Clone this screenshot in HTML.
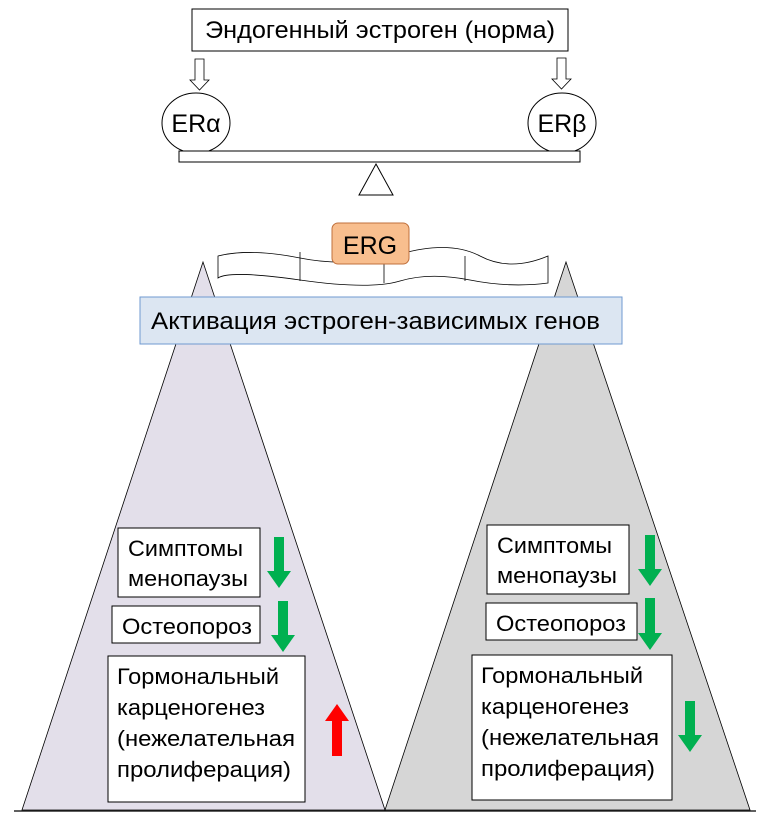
<!DOCTYPE html>
<html><head><meta charset="utf-8"><style>
body{margin:0;background:#fff}
text{font-family:"Liberation Sans",sans-serif;fill:#000}
</style></head><body>
<svg width="772" height="821" viewBox="0 0 772 821" xmlns="http://www.w3.org/2000/svg">
<polygon points="203,262 22,810 385,810" fill="#e3dfea" stroke="#000" stroke-width="0.8"/>
<polygon points="566,262 385,810 750,810" fill="#d6d6d6" stroke="#000" stroke-width="0.8"/>
<line x1="14" y1="811" x2="756" y2="811" stroke="#000" stroke-width="1.2"/>
<rect x="192" y="9" width="376" height="42" fill="#fff" stroke="#000" stroke-width="1"/>
<text x="380" y="38" font-size="24" text-anchor="middle" textLength="350" lengthAdjust="spacingAndGlyphs">Эндогенный эстроген (норма)</text>
<polygon points="195,59 204,59 204,80 209,80 199.5,90 190,80 195,80" fill="#fff" stroke="#000" stroke-width="0.8"/>
<polygon points="557,58 566,58 566,79 571,79 561.5,89 552,79 557,79" fill="#fff" stroke="#000" stroke-width="0.8"/>
<ellipse cx="196" cy="123" rx="34" ry="30" fill="#fff" stroke="#000"/>
<ellipse cx="562" cy="123" rx="34" ry="30" fill="#fff" stroke="#000"/>
<text x="196" y="132" font-size="25" text-anchor="middle">ERα</text>
<text x="562" y="132" font-size="25" text-anchor="middle">ERβ</text>
<rect x="179" y="151" width="401" height="11" fill="#fff" stroke="#000"/>
<polygon points="376,164 393,195 359,195" fill="#fff" stroke="#000"/>
<path d="M218,256 Q250,248 300,258 T400,254 T480,256 T548,256 L548,283 Q510,288 470,280 T400,281 T300,280 T218,278 Z" fill="#fff" stroke="#000" stroke-width="0.8"/>
<line x1="300" y1="252" x2="300" y2="281" stroke="#000" stroke-width="0.8"/>
<line x1="465" y1="256" x2="465" y2="281" stroke="#000" stroke-width="0.8"/>
<line x1="384" y1="262" x2="384" y2="283" stroke="#000" stroke-width="0.8"/>
<rect x="332" y="223" width="77" height="41" rx="6" fill="#f8be8e" stroke="#c0703c"/>
<text x="370" y="254" font-size="25" text-anchor="middle">ERG</text>
<rect x="140" y="297" width="482" height="47" fill="#dce6f2" stroke="#6f9ad0"/>
<text x="151" y="329" font-size="24" textLength="449" lengthAdjust="spacingAndGlyphs">Активация эстроген-зависимых генов</text>
<g font-size="22">
<rect x="118" y="528" width="142" height="69" fill="#fff" stroke="#000"/>
<text x="128" y="556" textLength="115" lengthAdjust="spacingAndGlyphs">Симптомы</text><text x="128" y="586" textLength="120" lengthAdjust="spacingAndGlyphs">менопаузы</text>
<rect x="112" y="606" width="148" height="37" fill="#fff" stroke="#000"/>
<text x="122" y="634" textLength="130" lengthAdjust="spacingAndGlyphs">Остеопороз</text>
<rect x="108" y="656" width="197" height="146" fill="#fff" stroke="#000"/>
<text x="117" y="684" textLength="162" lengthAdjust="spacingAndGlyphs">Гормональный</text><text x="117" y="715" textLength="148" lengthAdjust="spacingAndGlyphs">карценогенез</text><text x="117" y="746" textLength="178" lengthAdjust="spacingAndGlyphs">(нежелательная</text><text x="117" y="777" textLength="174" lengthAdjust="spacingAndGlyphs">пролиферация)</text>
<rect x="487" y="525" width="142" height="69" fill="#fff" stroke="#000"/>
<text x="497" y="553" textLength="115" lengthAdjust="spacingAndGlyphs">Симптомы</text><text x="497" y="583" textLength="120" lengthAdjust="spacingAndGlyphs">менопаузы</text>
<rect x="486" y="603" width="151" height="37" fill="#fff" stroke="#000"/>
<text x="496" y="631" textLength="130" lengthAdjust="spacingAndGlyphs">Остеопороз</text>
<rect x="472" y="655" width="200" height="145" fill="#fff" stroke="#000"/>
<text x="481" y="683" textLength="162" lengthAdjust="spacingAndGlyphs">Гормональный</text><text x="481" y="714" textLength="148" lengthAdjust="spacingAndGlyphs">карценогенез</text><text x="481" y="745" textLength="178" lengthAdjust="spacingAndGlyphs">(нежелательная</text><text x="481" y="776" textLength="174" lengthAdjust="spacingAndGlyphs">пролиферация)</text>
</g>
<g fill="#00b050">
<polygon points="274,537 284,537 284,571 291,571 279,588 267,571 274,571"/>
<polygon points="278,601 288,601 288,635 295,635 283,652 271,635 278,635"/>
<polygon points="645,535 655,535 655,569 662,569 650,586 638,569 645,569"/>
<polygon points="645,598 655,598 655,633 662,633 650,650 638,633 645,633"/>
<polygon points="685,701 695,701 695,735 702,735 690,752 678,735 685,735"/>
</g>
<polygon points="332,756 342,756 342,721 349,721 337,704 325,721 332,721" fill="#ff0000"/>
</svg>
</body></html>
